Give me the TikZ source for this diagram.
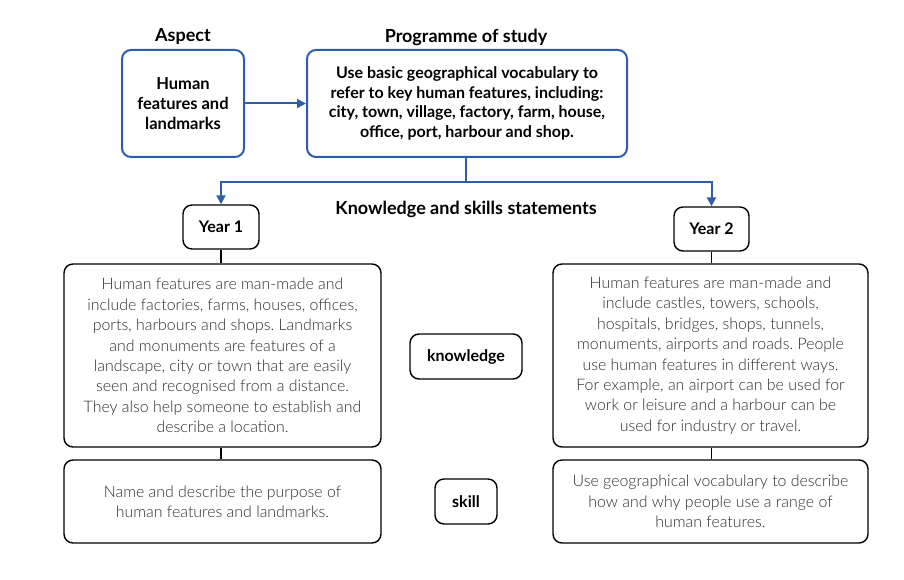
\documentclass[tikz,border=0pt]{standalone}
\usepackage{fontspec}
\setmainfont{Lato}
\newfontfamily\lightfont{Lato Light}
\usetikzlibrary{arrows.meta}
\frenchspacing
\definecolor{blueline}{RGB}{46,94,170}
\definecolor{bodytext}{RGB}{45,45,45}
\tikzset{
  bluebox/.style={draw=blueline, line width=2pt, rounded corners=9pt, align=center, inner sep=0pt, font=\fontsize{16}{19.5}\selectfont\bfseries},
  blackbox/.style={draw=black, line width=1.4pt, rounded corners=9pt, align=center, inner sep=0pt},
  bodybox/.style={blackbox, font=\lightfont\fontsize{15.9}{20.4}\selectfont, text=bodytext},
  labelbox/.style={blackbox, font=\fontsize{16}{19}\selectfont\bfseries},
  heading/.style={font=\fontsize{18}{21}\selectfont\bfseries, inner sep=0pt},
  blueconn/.style={draw=blueline, line width=2pt},
  blackconn/.style={draw=black, line width=1.4pt},
  bluearrow/.style={blueconn, -{Triangle[length=9pt,width=9pt]}}
}
\begin{document}
\begin{tikzpicture}[x=1pt,y=-1pt]
\useasboundingbox (0,0) rectangle (904,580);
% headings
\node[heading] (hasp) at (183,37) {Aspect};
\node[heading] (hprog) at (466,37) {Programme of study};
\node[heading] (hks) at (466,209) {Knowledge and skills statements};
% blue boxes
\node[bluebox, font=\fontsize{16.5}{20}\selectfont\bfseries, minimum width=122pt, minimum height=107pt] (asp) at (183,103.5) {Human\\features and\\landmarks};
\node[bluebox, minimum width=320pt, minimum height=107pt] (prog) at (467,103.5) {Use basic geographical vocabulary to\\refer to key human features, including:\\city, town, village, factory, farm, house,\\office, port, harbour and shop.};
% years
\node[labelbox, minimum width=76pt, minimum height=44pt] (y1) at (221,227) {Year 1};
\node[labelbox, minimum width=75pt, minimum height=44pt] (y2) at (711.5,229) {Year 2};
% knowledge boxes
\node[bodybox, minimum width=317pt, minimum height=183pt] (k1) at (222.5,355.5) {Human features are man-made and\\include factories, farms, houses, offices,\\ports, harbours and shops. Landmarks\\and monuments are features of a\\landscape, city or town that are easily\\seen and recognised from a distance.\\They also help someone to establish and\\describe a location.};
\node[bodybox, minimum width=315pt, minimum height=183pt] (k2) at (710.5,355.5) {Human features are man-made and\\include castles, towers, schools,\\hospitals, bridges, shops, tunnels,\\monuments, airports and roads. People\\use human features in different ways.\\For example, an airport can be used for\\work or leisure and a harbour can be\\used for industry or travel.};
% skill boxes
\node[bodybox, minimum width=317pt, minimum height=83pt] (s1) at (222.5,501.5) {Name and describe the purpose of\\human features and landmarks.};
\node[bodybox, minimum width=315pt, minimum height=83pt] (s2) at (710.5,501.5) {Use geographical vocabulary to describe\\how and why people use a range of\\human features.};
% label boxes
\node[labelbox, minimum width=112pt, minimum height=45pt] (kl) at (466,356.5) {knowledge};
\node[labelbox, minimum width=62pt, minimum height=45pt] (sl) at (466,501.5) {skill};
% connectors
\draw[bluearrow] (asp.east) -- (prog.west);
\coordinate (split) at (466,182);
\draw[blueconn] (prog.south -| split) -- (split);
\draw[bluearrow] (split) -| (y1.north);
\draw[bluearrow] (split) -| (y2.north);
\draw[blackconn] (y1.south) -- (y1.south |- k1.north);
\draw[blackconn] (y2.south) -- (y2.south |- k2.north);
\draw[blackconn] (y1.south |- k1.south) -- (y1.south |- s1.north);
\draw[blackconn] (y2.south |- k2.south) -- (y2.south |- s2.north);
\end{tikzpicture}
\end{document}
